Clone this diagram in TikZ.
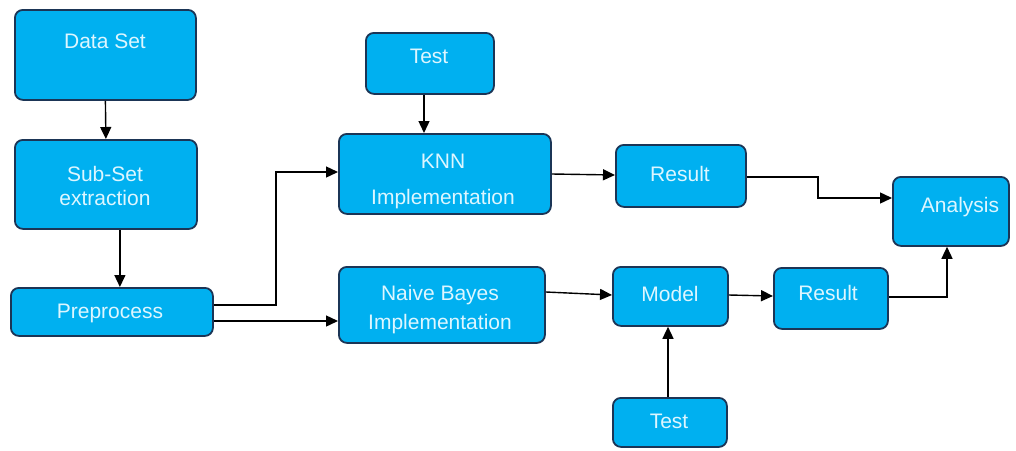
\documentclass[tikz,border=0pt]{standalone}
\usepackage{fontspec}
\setmainfont{Liberation Sans}
\usetikzlibrary{arrows.meta}
\definecolor{boxfill}{HTML}{00B0F0}
\definecolor{boxline}{HTML}{1B3556}
\definecolor{boxtext}{HTML}{DDF6FF}
\tikzset{
  box/.style={draw=boxline, fill=boxfill, line width=1.8pt, rounded corners=8pt, anchor=north west, inner sep=0pt},
  txt/.style={text=boxtext, font=\fontsize{21}{24}\selectfont, align=center, inner sep=0pt},
  arr/.style={draw=black, line width=1.4pt, -{Triangle[length=12pt,width=11pt]}},
}
\begin{document}
\begin{tikzpicture}[x=1pt,y=-1pt]
\fill[white] (0,0) rectangle (1016,450);
\useasboundingbox (0,0) rectangle (1016,450);
% boxes
\node[box, minimum width=181pt, minimum height=90pt] (ds) at (14,9) {};
\node[box, minimum width=182pt, minimum height=89pt] (ss) at (14,139) {};
\node[box, minimum width=202pt, minimum height=48pt] (pp) at (10,287) {};
\node[box, minimum width=128pt, minimum height=61pt] (t1) at (365,32) {};
\node[box, minimum width=212pt, minimum height=80pt] (knn) at (338,133) {};
\node[box, minimum width=206pt, minimum height=76pt] (nb) at (338,266) {};
\node[box, minimum width=130pt, minimum height=62pt] (r1) at (615,144) {};
\node[box, minimum width=115pt, minimum height=59pt] (model) at (612,266) {};
\node[box, minimum width=114pt, minimum height=61pt] (r2) at (773,267) {};
\node[box, minimum width=116pt, minimum height=69pt] (an) at (892,176) {};
\node[box, minimum width=114pt, minimum height=49pt] (t2) at (612,397) {};
% texts
\node[txt] (dsT) at (105,41) {Data Set};
\node[txt] (ssT) at (105,186) {Sub-Set\\extraction};
\node[txt] (ppT) at (110,313) {Preprocess};
\node[txt] (t1T) at (429,56) {Test};
\node[txt] (knnT) at (443,181) {KNN\\[12pt]Implementation};
\node[txt] (nbT) at (440,310) {Naive Bayes\\[5pt]Implementation};
\node[txt] (r1T) at (680,174) {Result};
\node[txt] (modelT) at (670,294) {Model};
\node[txt] (r2T) at (828,293) {Result};
\node[txt] (anT) at (960,207) {Analysis};
\node[txt] (t2T) at (669,421) {Test};
% connectors
\draw[arr] (ds.south) -- (ss.north);
\draw[arr] ([xshift=14pt]ss.south) -- ([xshift=14pt]ss.south |- pp.north);
\draw[arr] (t1.south -| 424,0) -- (knn.north -| 424,0);
\draw[arr] (pp.east |- 0,305) -- (276,305) -- (276,172) -- (knn.west |- 0,172);
\draw[arr] (pp.east |- 0,321) -- (nb.west |- 0,321);
\draw[arr] (knn.east |- 0,174) -- (r1.west |- 0,175);
\draw[arr] (r1.east |- 0,177) -| (818,198) -- (an.west |- 0,198);
\draw[arr] (nb.east |- 0,292) -- (model.west |- 0,295);
\draw[arr] (model.east |- 0,295) -- (r2.west |- 0,296);
\draw[arr] (t2.north -| 668,0) -- (model.south -| 668,0);
\draw[arr] (r2.east |- 0,297) -| (an.south -| 947,0);
\end{tikzpicture}
\end{document}
